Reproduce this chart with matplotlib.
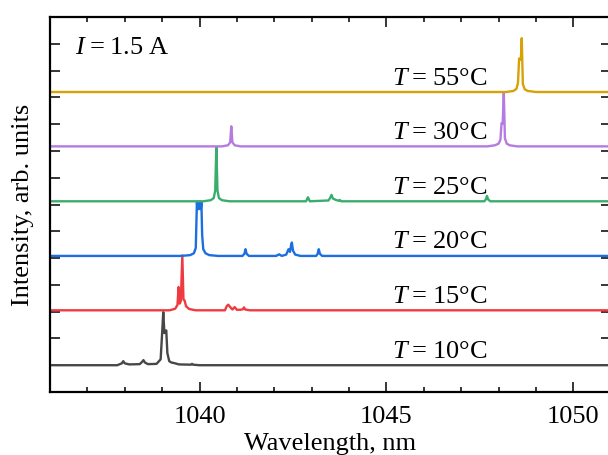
import matplotlib
matplotlib.use("Agg")
import matplotlib.pyplot as plt
from matplotlib.ticker import MultipleLocator

plt.rcParams['font.family'] = ['Liberation Serif', 'DejaVu Serif']
plt.rcParams['mathtext.fontset'] = 'custom'
plt.rcParams['mathtext.rm'] = 'Liberation Serif'
plt.rcParams['mathtext.it'] = 'Liberation Serif:italic'

# spectra: wavelength (nm) and intensity above the baseline
wl_10 = [1036, 1037.8, 1037.92, 1037.96, 1038.0, 1038.12, 1038.4, 1038.46, 1038.5, 1038.54,
         1038.62, 1038.85, 1038.96, 1039.0, 1039.03, 1039.06, 1039.09, 1039.11, 1039.14,
         1039.19, 1039.25, 1039.32, 1039.45, 1039.77, 1039.8, 1039.83, 1040.0, 1051]
i_10 = [0, 0, 0.07, 0.15, 0.07, 0.03, 0.04, 0.12, 0.19, 0.1,
        0.04, 0.05, 0.22, 1.2, 1.98, 1.2, 1.25, 1.3, 0.45,
        0.15, 0.1, 0.08, 0.03, 0.02, 0.05, 0.02, 0, 0]

wl_15 = [1036, 1039.2, 1039.35, 1039.41, 1039.44, 1039.47, 1039.5, 1039.54, 1039.57, 1039.6,
         1039.64, 1039.72, 1039.9, 1040.68, 1040.73, 1040.77, 1040.82, 1040.88, 1040.94,
         1041.0, 1041.1, 1041.16, 1041.19, 1041.22, 1041.35, 1051]
i_15 = [0, 0, 0.06, 0.2, 0.87, 0.25, 0.35, 2.05, 0.4, 0.37,
        0.15, 0.05, 0, 0, 0.16, 0.21, 0.12, 0.03, 0.12,
        0.02, 0.02, 0.04, 0.11, 0.03, 0, 0]

wl_20 = [1036, 1039.5, 1039.75, 1039.85, 1039.9, 1039.93, 1039.945, 1039.96, 1039.975, 1039.99,
         1040.005, 1040.02, 1040.035, 1040.05, 1040.07, 1040.1, 1040.16, 1040.26, 1040.5,
         1041.15, 1041.2, 1041.23, 1041.26, 1041.32, 1042.05, 1042.13, 1042.2, 1042.32,
         1042.38, 1042.42, 1042.45, 1042.47, 1042.5, 1042.56, 1042.7, 1043.12, 1043.16,
         1043.19, 1043.22, 1043.28, 1051]
i_20 = [0, 0, 0.03, 0.1, 0.3, 2.0, 1.75, 2.02, 1.75, 2.02,
        1.75, 2.02, 1.75, 2.0, 0.8, 0.25, 0.1, 0.03, 0,
        0, 0.08, 0.25, 0.08, 0, 0, 0.06, 0, 0.05,
        0.25, 0.15, 0.4, 0.5, 0.2, 0.05, 0, 0, 0.08,
        0.25, 0.08, 0, 0]

wl_25 = [1036, 1040.1, 1040.3, 1040.38, 1040.42, 1040.45, 1040.48, 1040.52, 1040.6, 1040.8,
         1042.85, 1042.9, 1042.95, 1043.45, 1043.5, 1043.53, 1043.57, 1043.65, 1043.72,
         1043.75, 1043.79, 1047.62, 1047.66, 1047.69, 1047.72, 1047.78, 1051]
i_25 = [0, 0, 0.04, 0.12, 0.4, 2.03, 0.4, 0.12, 0.04, 0,
        0, 0.15, 0, 0.03, 0.14, 0.24, 0.1, 0.05, 0.02,
        0.05, 0, 0, 0.07, 0.2, 0.07, 0, 0]

wl_30 = [1036, 1040.6, 1040.76, 1040.82, 1040.85, 1040.88, 1040.94, 1041.1, 1047.7, 1047.9,
         1048.0, 1048.05, 1048.08, 1048.11, 1048.14, 1048.17, 1048.22, 1048.3, 1048.5, 1051]
i_30 = [0, 0, 0.04, 0.15, 0.75, 0.15, 0.04, 0, 0, 0.04,
        0.1, 0.25, 0.87, 0.85, 2.0, 0.3, 0.1, 0.04, 0, 0]

wl_55 = [1036, 1048.2, 1048.4, 1048.48, 1048.52, 1048.55, 1048.58, 1048.6, 1048.62, 1048.65,
         1048.7, 1048.78, 1049.0, 1051]
i_55 = [0, 0, 0.04, 0.12, 0.35, 1.25, 1.2, 1.3, 2.01, 0.3,
        0.1, 0.04, 0, 0]

spectra = [(wl_10, i_10), (wl_15, i_15), (wl_20, i_20),
           (wl_25, i_25), (wl_30, i_30), (wl_55, i_55)]
offsets = [1.0, 3.05, 5.08, 7.12, 9.17, 11.2]
temps = ['10', '15', '20', '25', '30', '55']
colors = ['#474747', '#ef3b3f', '#1d6ee0', '#3aad6c', '#b57be0', '#d6a206']

fs = 19

fig = plt.figure(figsize=(6.08, 4.55), dpi=100)
ax = fig.add_axes([50 / 608, 63 / 455, 560.7 / 608, 375 / 455])

for (wl, inten), off, t, c in zip(spectra, offsets, temps, colors):
    ax.plot(wl, [v + off for v in inten], color=c, lw=1.7, solid_joinstyle='round')
    ax.text(1045.14, off + 0.28, '$T$\u2009=\u2009' + t + '°C', fontsize=fs,
            ha='left', va='baseline')

ax.text(1036.67, 12.61, '$I$\u2009=\u20091.5 A', fontsize=fs, ha='left', va='baseline')

ax.set_xlim(1036, 1051)
ax.set_ylim(0, 14)
ax.xaxis.set_major_locator(MultipleLocator(5))
ax.xaxis.set_minor_locator(MultipleLocator(1))
ax.yaxis.set_major_locator(MultipleLocator(1))
ax.set_yticklabels([])
ax.tick_params(which='both', direction='in', top=True, right=True, width=1.1)
ax.tick_params(which='major', length=7.2, labelsize=fs, pad=10)
ax.tick_params(which='minor', length=3.6)
for s in ax.spines.values():
    s.set_linewidth(1.6)

ax.set_xlabel('Wavelength, nm', fontsize=fs, labelpad=3.5)
ax.set_ylabel('Intensity, arb. units', fontsize=fs, labelpad=1.5)

plt.savefig('out.png', dpi=100)
